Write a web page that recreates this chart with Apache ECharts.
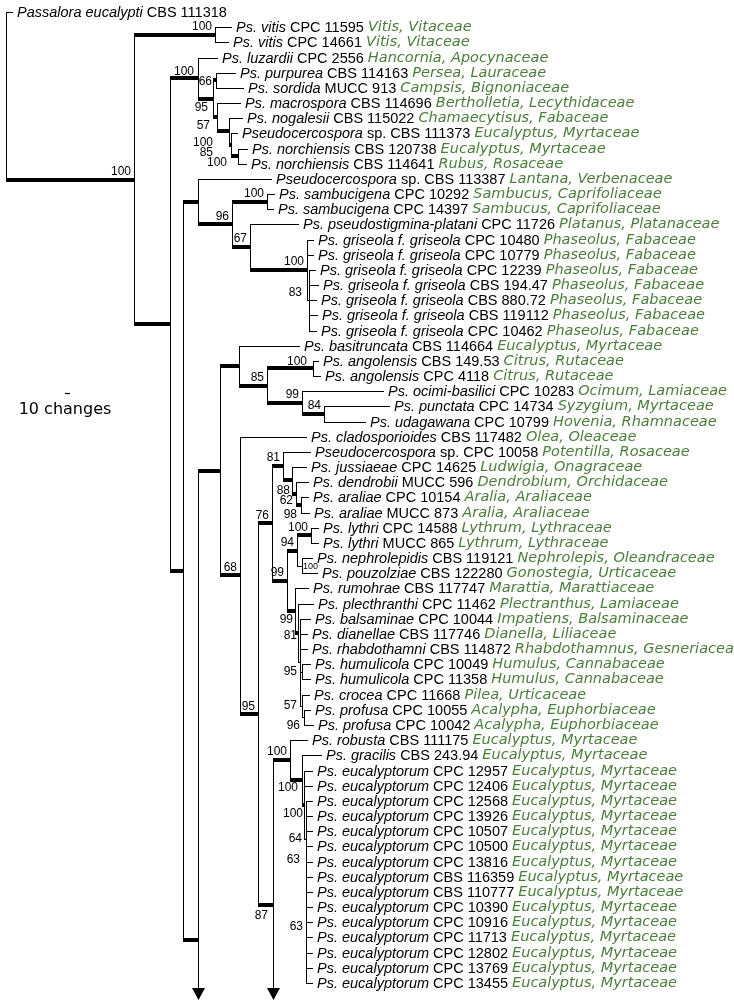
<!DOCTYPE html>
<html><head><meta charset="utf-8">
<script src="https://cdn.jsdelivr.net/npm/echarts@6/dist/echarts.min.js"></script>
<style>html,body{margin:0;padding:0;background:#fff}#c{width:734px;height:1001px}</style>
</head><body><div id="c"></div>
<script>
// ================= DATA =================
const leafTaxa = [
  "Passalora eucalypti","Ps. vitis","Ps. vitis","Ps. luzardii","Ps. purpurea","Ps. sordida",
  "Ps. macrospora","Ps. nogalesii","Pseudocercospora","Ps. norchiensis","Ps. norchiensis",
  "Pseudocercospora","Ps. sambucigena","Ps. sambucigena","Ps. pseudostigmina-platani",
  "Ps. griseola f. griseola","Ps. griseola f. griseola","Ps. griseola f. griseola","Ps. griseola f. griseola",
  "Ps. griseola f. griseola","Ps. griseola f. griseola","Ps. griseola f. griseola",
  "Ps. basitruncata","Ps. angolensis","Ps. angolensis","Ps. ocimi-basilici","Ps. punctata","Ps. udagawana",
  "Ps. cladosporioides","Pseudocercospora","Ps. jussiaeae","Ps. dendrobii","Ps. araliae","Ps. araliae",
  "Ps. lythri","Ps. lythri","Ps. nephrolepidis","Ps. pouzolziae","Ps. rumohrae","Ps. plecthranthi",
  "Ps. balsaminae","Ps. dianellae","Ps. rhabdothamni","Ps. humulicola","Ps. humulicola","Ps. crocea",
  "Ps. profusa","Ps. profusa","Ps. robusta","Ps. gracilis",
  "Ps. eucalyptorum","Ps. eucalyptorum","Ps. eucalyptorum","Ps. eucalyptorum","Ps. eucalyptorum",
  "Ps. eucalyptorum","Ps. eucalyptorum","Ps. eucalyptorum","Ps. eucalyptorum","Ps. eucalyptorum",
  "Ps. eucalyptorum","Ps. eucalyptorum","Ps. eucalyptorum","Ps. eucalyptorum","Ps. eucalyptorum"
];
const leafStrains = [
  "CBS 111318","CPC 11595","CPC 14661","CPC 2556","CBS 114163","MUCC 913",
  "CBS 114696","CBS 115022","sp. CBS 111373","CBS 120738","CBS 114641",
  "sp. CBS 113387","CPC 10292","CPC 14397","CPC 11726",
  "CPC 10480","CPC 10779","CPC 12239","CBS 194.47","CBS 880.72","CBS 119112","CPC 10462",
  "CBS 114664","CBS 149.53","CPC 4118","CPC 10283","CPC 14734","CPC 10799",
  "CBS 117482","sp. CPC 10058","CPC 14625","MUCC 596","CPC 10154","MUCC 873",
  "CPC 14588","MUCC 865","CBS 119121","CBS 122280","CBS 117747","CPC 11462",
  "CPC 10044","CBS 117746","CBS 114872","CPC 10049","CPC 11358","CPC 11668",
  "CPC 10055","CPC 10042","CBS 111175","CBS 243.94",
  "CPC 12957","CPC 12406","CPC 12568","CPC 13926","CPC 10507","CPC 10500","CPC 13816",
  "CBS 116359","CBS 110777","CPC 10390","CPC 10916","CPC 11713","CPC 12802","CPC 13769","CPC 13455"
];
const leafHosts = [
  "","Vitis, Vitaceae","Vitis, Vitaceae","Hancornia, Apocynaceae","Persea, Lauraceae","Campsis, Bignoniaceae",
  "Bertholletia, Lecythidaceae","Chamaecytisus, Fabaceae","Eucalyptus, Myrtaceae","Eucalyptus, Myrtaceae","Rubus, Rosaceae",
  "Lantana, Verbenaceae","Sambucus, Caprifoliaceae","Sambucus, Caprifoliaceae","Platanus, Platanaceae",
  "Phaseolus, Fabaceae","Phaseolus, Fabaceae","Phaseolus, Fabaceae","Phaseolus, Fabaceae","Phaseolus, Fabaceae",
  "Phaseolus, Fabaceae","Phaseolus, Fabaceae",
  "Eucalyptus, Myrtaceae","Citrus, Rutaceae","Citrus, Rutaceae","Ocimum, Lamiaceae","Syzygium, Myrtaceae","Hovenia, Rhamnaceae",
  "Olea, Oleaceae","Potentilla, Rosaceae","Ludwigia, Onagraceae","Dendrobium, Orchidaceae","Aralia, Araliaceae","Aralia, Araliaceae",
  "Lythrum, Lythraceae","Lythrum, Lythraceae","Nephrolepis, Oleandraceae","Gonostegia, Urticaceae","Marattia, Marattiaceae",
  "Plectranthus, Lamiaceae","Impatiens, Balsaminaceae","Dianella, Liliaceae","Rhabdothamnus, Gesneriaceae",
  "Humulus, Cannabaceae","Humulus, Cannabaceae","Pilea, Urticaceae","Acalypha, Euphorbiaceae","Acalypha, Euphorbiaceae",
  "Eucalyptus, Myrtaceae","Eucalyptus, Myrtaceae",
  "Eucalyptus, Myrtaceae","Eucalyptus, Myrtaceae","Eucalyptus, Myrtaceae","Eucalyptus, Myrtaceae","Eucalyptus, Myrtaceae",
  "Eucalyptus, Myrtaceae","Eucalyptus, Myrtaceae","Eucalyptus, Myrtaceae","Eucalyptus, Myrtaceae","Eucalyptus, Myrtaceae",
  "Eucalyptus, Myrtaceae","Eucalyptus, Myrtaceae","Eucalyptus, Myrtaceae","Eucalyptus, Myrtaceae","Eucalyptus, Myrtaceae"
];
const leafParents = [
  "root","VIT","VIT","B1","N66","N66","N57","N100c","N85","NOR","NOR",
  "D","SAMB","SAMB","D67","G","G","H","H","H","H","H",
  "K","ANG","ANG","M","N84","N84","P","N81","N88","N62","N98","N98",
  "LYT","LYT","NEP","NEP","N99b","N81b","X","X","X","HUM","HUM","N57b","PRO","PRO","T","U",
  "V","V","W","W","Y","Y","Z","Z","Z","Z","Z","Z","Z","Z","Z"
];
const leafDepths = [
  12,450,444,422,458,474,468,472,462,482,480,
  530,536,534,584,614,614,618,624,620,622,620,
  586,624,628,754,766,718,600,608,600,604,604,606,
  624,624,612,622,604,614,608,602,602,608,608,606,608,614,602,630,
  612,612,612,612,612,612,612,612,612,612,612,612,612,612,612
];
const nodeIds     = ["root","I","VIT","B","B1","N95","N66","N57","N100c","N85","NOR","C","D","D96","SAMB","D67","G","H","E","F","K","L","ANG","M","N84","P","Q","R","N81","N88","N62","N98","N99a","N94","LYT","NEP","N99b","N81b","X","HUM","N57b","PRO","S","T","U","V","W","Y","Z"];
const nodeParents = ["","root","I","I","B","B1","N95","N95","N57","N100c","N85","B","C","D","D96","D96","D67","G","C","E","F","K","L","L","M","F","P","Q","R","N81","N88","N62","R","N99a","N94","N94","N99a","N99b","N81b","X","X","N57b","Q","S","T","U","V","W","Y"];
const nodeDepths  = [0,256,418,328,384,414,420,422,446,450,464,354,384,452,522,488,602,606,384,428,466,522,614,592,636,468,504,532,554,572,580,590,562,582,610,592,578,584,588,592,592,596,534,568,592,596,600,600,600];
const nodeSupport = ["","100","100","","100","95","66","57","100","85","100","","","96","100","67","100","83","","","","85","100","99","84","68","95","76","81","88","62","98","99","94","100","100","99","81","","95","57","96","87","100","100","100","64","63","63"];
const nodeBold    = [0,1,1,1,1,1,1,1,1,1,1,1,1,1,1,1,1,0,1,1,1,1,1,1,1,1,1,1,1,1,1,1,1,1,1,0,1,1,0,0,0,0,1,1,1,1,0,0,0];
const continuedNodeRows = { E: 61.17, S: 58.87 };
const scaleBarChanges = 10;
const scaleLabel = "10 changes";

// ================= LAYOUT / STYLE =================
const ROW_PX = 15.17, TOP = 12, ROWS = 65;
const ARROW_TOP_ROW = leafTaxa.length - 1 + 0.33;
const SCALE_POS = { x: 118, row: 25.1, labelRow: 26.24 };
const HOST_COLOR = '#4b7d3c';
const LABEL_NUDGE = {
  B1:[-4,-6], N95:[-5,9], N66:[-4,1], N57:[-7,8], N100c:[-16,11], N85:[-18,8], NOR:[-11,7],
  H:[-7,-8], ANG:[-6,-7], N88:[-2,10], N62:[-3,7], N98:[-4,10],
  N99b:[-2,9], N81b:[-1,3], HUM:[-5,0], N57b:[-5,0], PRO:[-4,8],
  S:[-5,11], U:[-4,8], V:[-1,9], W:[-4,0], Y:[-6,-17], Z:[-3,4]
};
const SMALL_RIGHT = { NEP: true };

// ================= TREE GEOMETRY =================
const idx = {}; nodeIds.forEach((id, i) => idx[id] = i);
const kids = {}; nodeIds.forEach(id => kids[id] = []);
leafParents.forEach((p, i) => kids[p].push({ leaf: i }));
nodeParents.forEach((p, i) => { if (p) kids[p].push({ node: nodeIds[i] }); });
const nodeRow = {};
function rowOf(c) { return c.leaf !== undefined ? c.leaf : calcRow(c.node); }
function calcRow(id) {
  if (nodeRow[id] !== undefined) return nodeRow[id];
  const rs = kids[id].map(rowOf);
  let r = (Math.min(...rs) + Math.max(...rs)) / 2;
  if (continuedNodeRows[id] !== undefined) r = continuedNodeRows[id];
  nodeRow[id] = r; return r;
}
calcRow('root');

const segs = [];
leafParents.forEach((p, i) => segs.push([nodeDepths[idx[p]], i, leafDepths[i], i, 0]));
nodeIds.forEach((id, i) => {
  const d = nodeDepths[i], r = nodeRow[id], p = nodeParents[i];
  if (p) segs.push([nodeDepths[idx[p]], r, d, r, nodeBold[i]]);
  const rs = kids[id].map(c => c.leaf !== undefined ? c.leaf : nodeRow[c.node]);
  let r0 = Math.min(...rs), r1 = Math.max(...rs);
  if (continuedNodeRows[id] !== undefined) r1 = ARROW_TOP_ROW;
  segs.push([d, r0, d, r1, 0]);
});
const arrows = Object.keys(continuedNodeRows).map(id => [nodeDepths[idx[id]], ARROW_TOP_ROW]);
const leafLabelData = leafTaxa.map((t, i) => [leafDepths[i], i, i]);
const supportData = [];
nodeIds.forEach((id, i) => { if (nodeSupport[i]) supportData.push([nodeDepths[i], nodeRow[id], i]); });

// ================= CHART =================
const chart = echarts.init(document.getElementById('c'), null, { renderer: 'canvas' });
const TAXON_FONT = 'Liberation Sans, Arial, sans-serif';
const HOST_FONT = 'DejaVu Sans, sans-serif';
chart.setOption({
  animation: false,
  backgroundColor: '#fff',
  grid: { left: 6, right: 0, top: TOP, height: ROWS * ROW_PX, containLabel: false },
  xAxis: { type: 'value', min: 0, max: 1456, show: false },
  yAxis: { type: 'value', min: 0, max: ROWS, inverse: true, show: false },
  series: [
    {
      type: 'custom', coordinateSystem: 'cartesian2d', clip: false, silent: true, data: segs,
      renderItem(params, api) {
        const a = api.coord([api.value(0), api.value(1)]), b = api.coord([api.value(2), api.value(3)]);
        const bold = api.value(4) === 1;
        if (Math.abs(a[1] - b[1]) < 0.01) {
          const x1 = Math.round(a[0]), x2 = Math.round(b[0]);
          if (bold) {
            const y = Math.round(a[1]);
            return { type: 'rect', shape: { x: x1, y: y - 2, width: x2 - x1 + 1, height: 4 }, style: { fill: '#000' } };
          }
          const y = Math.round(a[1]) + 0.5;
          return { type: 'line', shape: { x1: x1, y1: y, x2: x2 + 1, y2: y }, style: { stroke: '#000', lineWidth: 1 } };
        }
        const x = Math.round(a[0]) + 0.5;
        return { type: 'line', shape: { x1: x, y1: Math.round(a[1]), x2: x, y2: Math.round(b[1]) + 1 }, style: { stroke: '#000', lineWidth: 1 } };
      }
    },
    {
      type: 'custom', coordinateSystem: 'cartesian2d', clip: false, silent: true, data: arrows,
      renderItem(params, api) {
        const p = api.coord([api.value(0), api.value(1)]);
        const x = Math.round(p[0]) + 0.5, y = Math.round(p[1]);
        return { type: 'polygon', shape: { points: [[x - 6.5, y], [x + 6.5, y], [x, y + 12]] }, style: { fill: '#000' } };
      }
    },
    {
      type: 'custom', coordinateSystem: 'cartesian2d', clip: false, silent: true, data: leafLabelData,
      renderItem(params, api) {
        const p = api.coord([api.value(0), api.value(1)]);
        const i = api.value(2);
        let t = '{i|' + leafTaxa[i] + '} {n|' + leafStrains[i] + '}';
        if (leafHosts[i]) t += ' {h|' + leafHosts[i] + '}';
        return {
          type: 'text', x: Math.round(p[0]) + 5, y: Math.round(p[1]) + 0.5,
          style: {
            text: t, align: 'left', verticalAlign: 'middle',
            font: '14.5px ' + TAXON_FONT, fill: '#000',
            rich: {
              i: { fontFamily: TAXON_FONT, fontSize: 14.5, fontStyle: 'italic', fill: '#000' },
              n: { fontFamily: TAXON_FONT, fontSize: 14.5, fill: '#000' },
              h: { fontFamily: HOST_FONT, fontSize: 14.5, fontStyle: 'italic', fill: HOST_COLOR }
            }
          }
        };
      }
    },
    {
      type: 'custom', coordinateSystem: 'cartesian2d', clip: false, silent: true, data: supportData,
      renderItem(params, api) {
        const p = api.coord([api.value(0), api.value(1)]);
        const i = api.value(2), id = nodeIds[i];
        if (SMALL_RIGHT[id]) {
          return { type: 'text', x: p[0] + 1, y: p[1] + 1, style: { text: nodeSupport[i], align: 'left', verticalAlign: 'middle', font: '9px ' + TAXON_FONT, fill: '#000' } };
        }
        const n = LABEL_NUDGE[id] || [-3, -8];
        return { type: 'text', x: p[0] + n[0], y: p[1] + n[1], style: { text: nodeSupport[i], align: 'right', verticalAlign: 'middle', font: '12px ' + TAXON_FONT, fill: '#000' } };
      }
    },
    {
      type: 'custom', coordinateSystem: 'cartesian2d', clip: false, silent: true,
      data: [[SCALE_POS.x, SCALE_POS.row, SCALE_POS.x + scaleBarChanges, SCALE_POS.labelRow]],
      renderItem(params, api) {
        const a = api.coord([api.value(0), api.value(1)]), b = api.coord([api.value(2), api.value(1)]);
        const c = api.coord([api.value(0), api.value(3)]);
        return { type: 'group', children: [
          { type: 'line', shape: { x1: a[0], y1: Math.round(a[1]) + 0.5, x2: b[0], y2: Math.round(a[1]) + 0.5 }, style: { stroke: '#000', lineWidth: 1.2 } },
          { type: 'text', x: c[0], y: c[1], style: { text: scaleLabel, align: 'center', verticalAlign: 'middle', font: '16px ' + HOST_FONT, fill: '#000' } }
        ] };
      }
    }
  ]
});
</script></body></html>
